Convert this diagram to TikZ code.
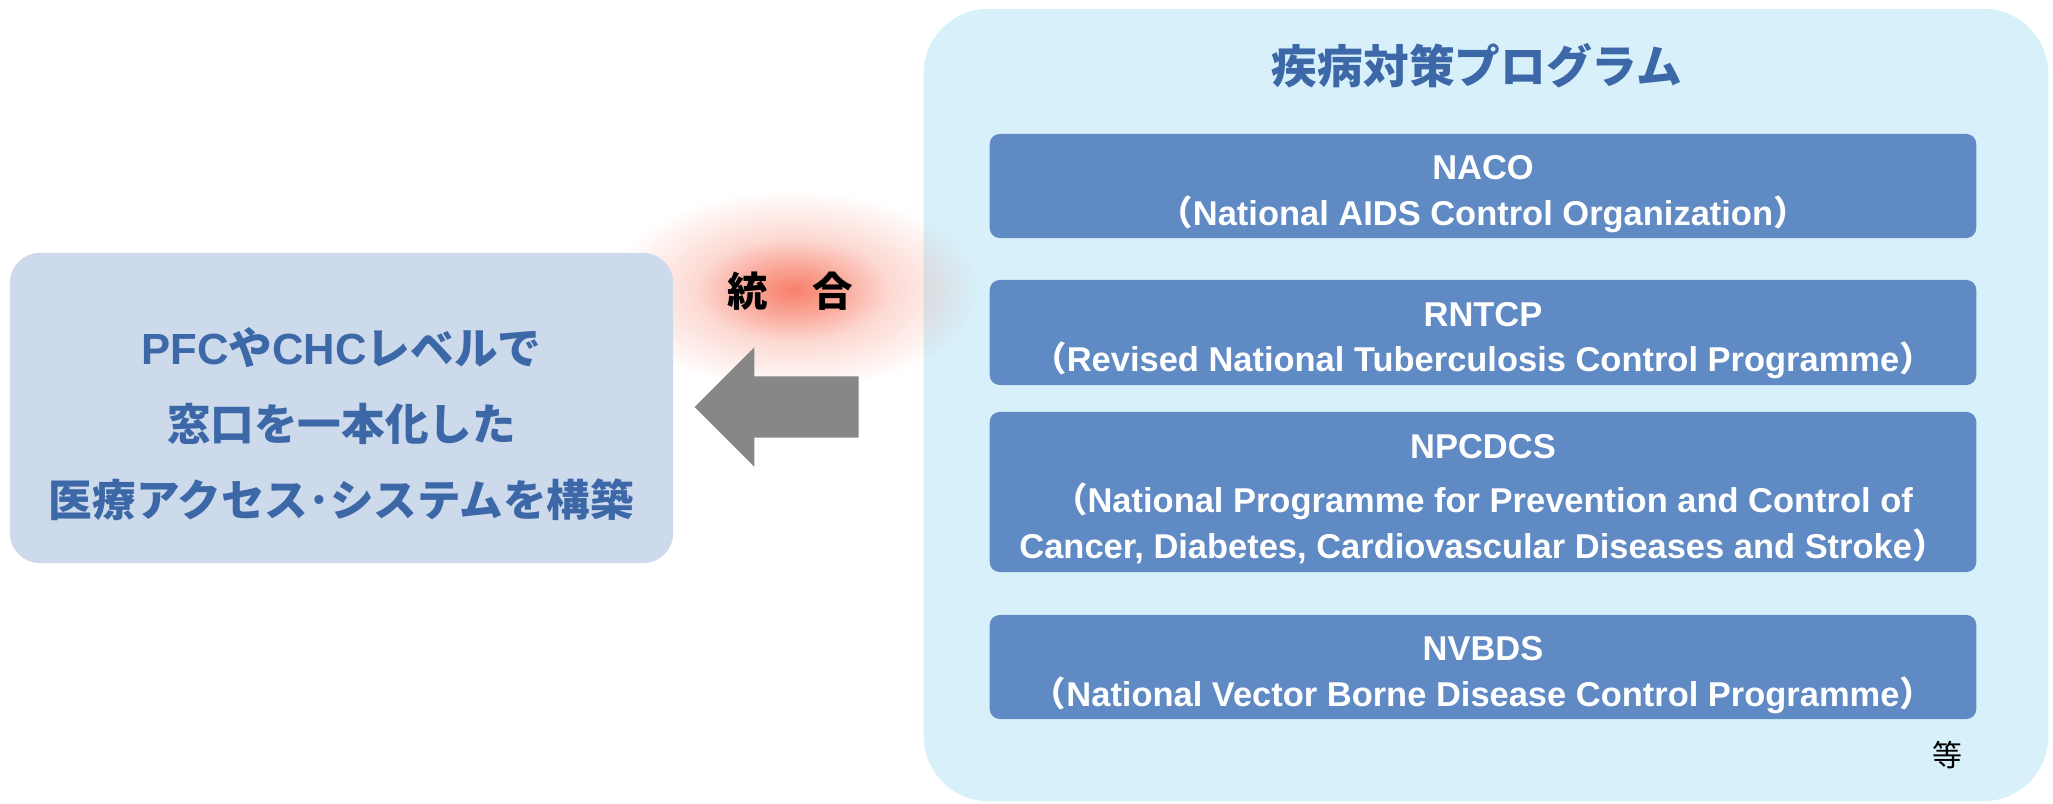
\documentclass[tikz,border=0pt]{standalone}
\usepackage{fontspec}
\setmainfont{Liberation Sans}
\newfontfamily\jp{Noto Sans CJK JP}
\usetikzlibrary{shapes.arrows,fadings}

\definecolor{panelbg}{RGB}{215,240,250}
\definecolor{progbg}{RGB}{96,138,196}
\definecolor{leftbg}{RGB}{205,218,235}
\definecolor{deepblue}{RGB}{61,104,168}
\definecolor{glowred}{RGB}{247,128,106}

% soft glow: opaque centre, quick fall-off
\pgfdeclareradialshading{glowshade}{\pgfpointorigin}{color(0bp)=(white); color(6bp)=(black!30); color(13bp)=(black!70); color(25bp)=(black); color(50bp)=(black)}
\pgfdeclarefading{glowfade}{\pgfuseshading{glowshade}}

\newcommand{\lpar}{{\jp （}}
\newcommand{\rpar}{{\jp ）}}

\begin{document}
\begin{tikzpicture}[x=0.01cm, y=-0.01cm,
    progbox/.style={fill=progbg, rounded corners=0.1cm, minimum width=9.86cm},
    progtext/.style={text=white, text depth=0pt, yshift=-1.3pt,
        font=\fontsize{9.8}{13}\selectfont\bfseries, align=center}]
    \useasboundingbox (0,0) rectangle (2053,804);

    % Panels
    \node[fill=panelbg, rounded corners=0.65cm, minimum width=11.24cm, minimum height=7.92cm] (programs) at (1486,405) {};

    % Glow behind the label
    \fill[glowred, path fading=glowfade] (793,290) ellipse [x radius=185, y radius=100];

    \node[fill=leftbg, rounded corners=0.3cm, minimum width=6.63cm, minimum height=3.10cm] (access) at (341.5,408) {};
    \node[text=deepblue, align=center, font=\jp\bfseries\fontsize{12.4}{21.6}\selectfont] (accesstext) at (341.5,424)
        {{\rmfamily PFC}や{\rmfamily CHC}レベルで\\窓口を一本化した\\医療アクセス･システムを構築};

    % Title
    \node[text=deepblue, font=\jp\bfseries\fontsize{13}{15}\selectfont] (title) at (1477,66) {疾病対策プログラム};

    % Programmes
    \node[progbox, minimum height=1.04cm] (naco) at (1483,186) {};
    \node[progtext] (nacotext) at (naco.center)
        {NACO\\\lpar National AIDS Control Organization\rpar};
    \node[progbox, minimum height=1.05cm] (rntcp) at (1483,332.5) {};
    \node[progtext] (rntcptext) at (rntcp.center)
        {RNTCP\\\lpar Revised National Tuberculosis Control Programme\rpar};
    \node[progbox, minimum height=1.60cm] (npcdcs) at (1483,492) {};
    \node[progtext] (npcdcstext) at (npcdcs.center)
        {NPCDCS\\[2.3pt]\lpar National Programme for Prevention and Control of\\Cancer, Diabetes, Cardiovascular Diseases and Stroke\rpar};
    \node[progbox, minimum height=1.04cm] (nvbds) at (1483,667) {};
    \node[progtext] (nvbdstext) at (nvbds.center)
        {NVBDS\\\lpar National Vector Borne Disease Control Programme\rpar};
    \node[font=\jp\fontsize{8.5}{10}\selectfont] (etc) at (1947,755) {等};

    % Merge arrow
    \node[single arrow, shape border rotate=180, fill=black!47, inner sep=0.3cm,
        minimum height=1.64cm, single arrow head extend=0.29cm] (merge) at (792,407) {};
    \node[font=\jp\bfseries\fontsize{11.5}{13}\selectfont] (mergelabel) at (790,291) {統\hspace{1.1em}合};

\end{tikzpicture}
\end{document}
